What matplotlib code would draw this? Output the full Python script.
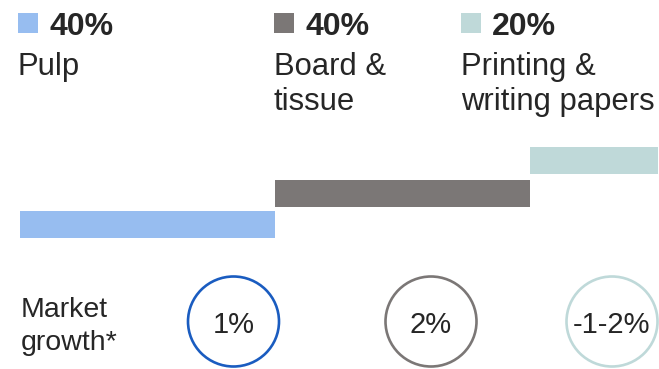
import matplotlib
matplotlib.use("Agg")
import matplotlib.pyplot as plt
from matplotlib.patches import Ellipse, Rectangle
import numpy as np

# Market segments and their share of sales (%)
segments = ["Pulp", "Board &\ntissue", "Printing &\nwriting papers"]
shares = [40, 40, 20]
share_labels = ["40%", "40%", "20%"]
growth_labels = ["1%", "2%", "-1-2%"]
fill_colors = ["#97bdf0", "#7b7776", "#bfd9d9"]
ring_colors = ["#1a5cc0", "#7b7776", "#bfd9d9"]

plt.rcParams["font.family"] = ["Liberation Sans", "DejaVu Sans"]

W, H = 659, 369
fig = plt.figure(figsize=(W / 100, H / 100), dpi=100)
ax = fig.add_axes([0, 0, 1, 1])

# x axis in share units, y axis in pixel rows from top
px_per_share = 6.375
left_px = 20
ax.set_xlim(-left_px / px_per_share, (W - left_px) / px_per_share)
ax.set_ylim(H, 0)
ax.axis("off")


def sx(px):
    """Horizontal pixel position to share units."""
    return (px - left_px) / px_per_share


# Staircase of segment bars
starts = np.concatenate([[0], np.cumsum(shares)[:-1]])
bar_tops = [211, 180, 147]
ax.barh([t + 13.5 for t in bar_tops], shares, left=starts, height=27,
        color=fill_colors, edgecolor="none")

# Headers: colour key, share and segment name
header_x = [18, 274, 461]
text_color = "#262626"
for i in range(3):
    x = header_x[i]
    ax.add_patch(Rectangle((sx(x), 13), 20 / px_per_share, 20,
                           color=fill_colors[i], lw=0))
    ax.text(sx(x + 31), 35, share_labels[i], fontsize=23, fontweight="bold",
            color=text_color, va="baseline", ha="left")
    for j, line in enumerate(segments[i].split("\n")):
        ax.text(sx(x), 75 + 35 * j, line, fontsize=22.3, color=text_color,
                va="baseline", ha="left")

# Market growth rings
for j, line in enumerate(["Market", "growth*"]):
    ax.text(sx(21), 317 + 33 * j, line, fontsize=20.5, color=text_color,
            va="baseline", ha="left")
ring_x = [233.5, 431, 612]
for i in range(3):
    ax.add_patch(Ellipse((sx(ring_x[i]), 321.5), 91 / px_per_share, 90,
                         fill=False, edgecolor=ring_colors[i], lw=1.9))
    ax.text(sx(ring_x[i]), 333, growth_labels[i], fontsize=21,
            color=text_color, va="baseline", ha="center")

fig.savefig("out.png", dpi=100, facecolor="white")
